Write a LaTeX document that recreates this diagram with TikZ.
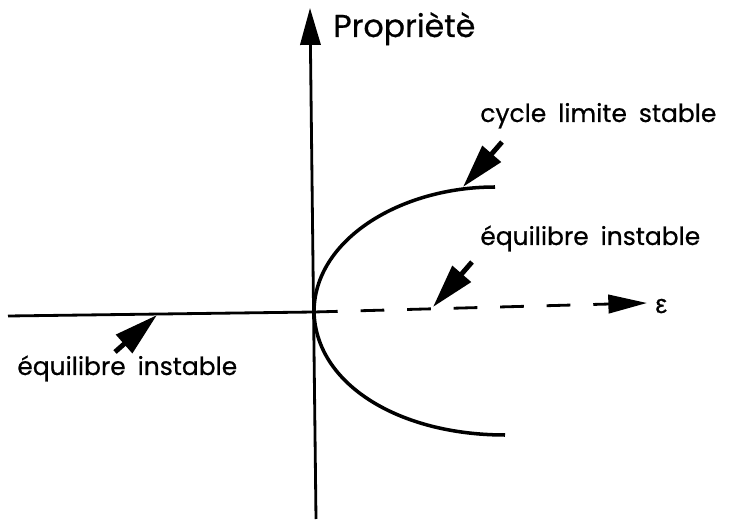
\documentclass[tikz,border=0pt]{standalone}
\usepackage{fontspec}
\setmainfont[WordSpace=1.8,FakeBold=0.6]{Poppins}
\newfontfamily\grkfont[FakeBold=0.6]{Liberation Sans}
\usetikzlibrary{arrows.meta}

\begin{document}
\begin{tikzpicture}[x=0.02cm,y=-0.02cm,
  axis/.style={line width=1.6pt},
  branch/.style={line width=2pt},
  pointer/.style={line width=2.8pt,-{Triangle[length=25pt,width=13.5pt]}},
  lbl/.style={inner sep=0pt,anchor=base west,font=\fontsize{14.2}{17}\selectfont}]
\useasboundingbox (0,0) rectangle (731,520);
% axes
\coordinate (O) at (314,312);
\coordinate (ybot) at (316,519);
\coordinate (ytop) at (310,8);
\coordinate (xleft) at (8,316);
\coordinate (xright) at (647,303);
\draw[axis,-{Triangle[length=21pt,width=11.5pt]}] (ybot) -- (ytop);
\draw[axis] (xleft) -- (O);
\draw[axis,dash pattern=on 13.5pt off 13pt,-{Triangle[length=22pt,width=10.5pt]}] (O) -- (xright);
% branches
\coordinate (up) at (495,187);
\coordinate (down) at (505,435);
\draw[branch] (O) .. controls (314,240) and (400,187) .. (up);
\draw[branch] (O) .. controls (316,385) and (400,435) .. (down);
% labels
\node[lbl,font=\fontsize{18}{22}\selectfont] (prop) at (333,37) {Propriètè};
\node[lbl] (cyc) at (480,122) {cycle limite stable};
\node[lbl] (eqr) at (480,245) {équilibre instable};
\node[lbl] (eql) at (17,375) {équilibre instable};
\node[lbl,font=\grkfont\fontsize{15}{18}\selectfont] (eps) at (655,313) {ε};
% pointers
\coordinate (p1s) at (502,142); \coordinate (p1e) at (463,187);
\coordinate (p2s) at (472,262); \coordinate (p2e) at (433,307);
\coordinate (p3s) at (115,352); \coordinate (p3e) at (157,315);
\draw[pointer] (p1s) -- (p1e);
\draw[pointer] (p2s) -- (p2e);
\draw[pointer] (p3s) -- (p3e);
\end{tikzpicture}
\end{document}
